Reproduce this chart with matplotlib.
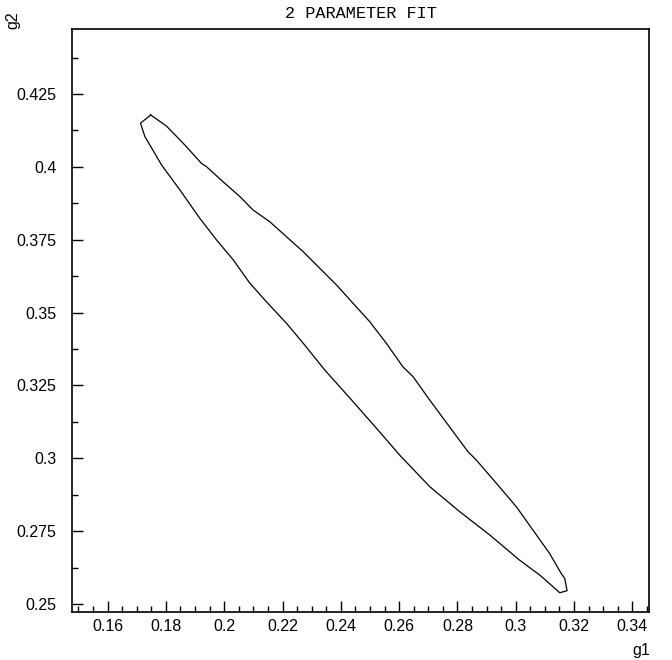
import matplotlib
matplotlib.use('Agg')
import matplotlib.pyplot as plt
from matplotlib.ticker import MultipleLocator

# contour of the fit, upper edge from the top tip down to the bottom tip
g1_upper = [0.1748, 0.1802, 0.1865, 0.1922, 0.1939, 0.1996, 0.2054, 0.2099,
            0.2156, 0.2214, 0.2271, 0.2328, 0.2385, 0.2442, 0.2499, 0.2556,
            0.2613, 0.2648, 0.2705, 0.2773, 0.2836, 0.2865, 0.2934, 0.3002,
            0.3059, 0.3116, 0.3156, 0.3168, 0.3176, 0.3151]
g2_upper = [0.4178, 0.4140, 0.4075, 0.4012, 0.4001, 0.3949, 0.3898, 0.3852,
            0.3812, 0.3760, 0.3709, 0.3652, 0.3595, 0.3532, 0.3469, 0.3395,
            0.3314, 0.3280, 0.3200, 0.3108, 0.3023, 0.2994, 0.2914, 0.2834,
            0.2754, 0.2674, 0.2605, 0.2588, 0.2546, 0.2539]

# lower edge, from the bottom tip back up to the left tip
g1_lower = [0.3082, 0.3013, 0.2911, 0.2808, 0.2705, 0.2602, 0.2533, 0.2431,
            0.2345, 0.2271, 0.2214, 0.2145, 0.2088, 0.2031, 0.1974, 0.1916,
            0.1848, 0.1785, 0.1728, 0.1713]
g2_lower = [0.2600, 0.2651, 0.2737, 0.2817, 0.2903, 0.3011, 0.3091, 0.3207,
            0.3303, 0.3395, 0.3463, 0.3537, 0.3601, 0.3681, 0.3749, 0.3824,
            0.3921, 0.4007, 0.4104, 0.4150]

x_ticks = [0.16, 0.18, 0.2, 0.22, 0.24, 0.26, 0.28, 0.3, 0.32, 0.34]
x_labels = ['0.16', '0.18', '0.2', '0.22', '0.24', '0.26', '0.28', '0.3', '0.32', '0.34']
y_ticks = [0.25, 0.275, 0.3, 0.325, 0.35, 0.375, 0.4, 0.425]
y_labels = ['0.25', '0.275', '0.3', '0.325', '0.35', '0.375', '0.4', '0.425']

plt.rcParams['font.family'] = ['Liberation Sans', 'DejaVu Sans']

fig = plt.figure(figsize=(6.72, 6.6), dpi=100)
ax = fig.add_axes([72 / 672, 48.3 / 660, 577 / 672, 582.7 / 660])

xs = g1_upper + g1_lower + [g1_upper[0]]
ys = g2_upper + g2_lower + [g2_upper[0]]
ax.plot(xs, ys, color='black', lw=0.9)

ax.set_xlim(0.1478, 0.3457)
ax.set_ylim(0.2474, 0.4473)

ax.set_xticks(x_ticks)
ax.set_xticklabels(x_labels)
ax.set_yticks(y_ticks)
ax.set_yticklabels(y_labels)
ax.xaxis.set_minor_locator(MultipleLocator(0.005))
ax.yaxis.set_minor_locator(MultipleLocator(0.0125))

ax.tick_params(which='both', direction='in', top=False, right=False, color='black')
ax.tick_params(which='major', length=8, width=1.0, labelsize=11.5)
ax.tick_params(which='minor', length=4, width=1.0)
ax.tick_params(axis='x', which='major', pad=5)
ax.tick_params(axis='y', which='major', pad=11)

for s in ax.spines.values():
    s.set_linewidth(1.2)

fig.text(0.5 * (72 + 649) / 672, 1 - 13 / 660, '2 PARAMETER FIT',
         ha='center', va='center', fontsize=12.2, family='Liberation Mono')
fig.text(13 / 672, 1 - 20 / 660, 'g2', rotation=90, ha='center', va='center', fontsize=11.5)
fig.text(650 / 672, 1 - 650 / 660, 'g1', ha='right', va='center', fontsize=11.5)

fig.savefig('out.png', dpi=100)
